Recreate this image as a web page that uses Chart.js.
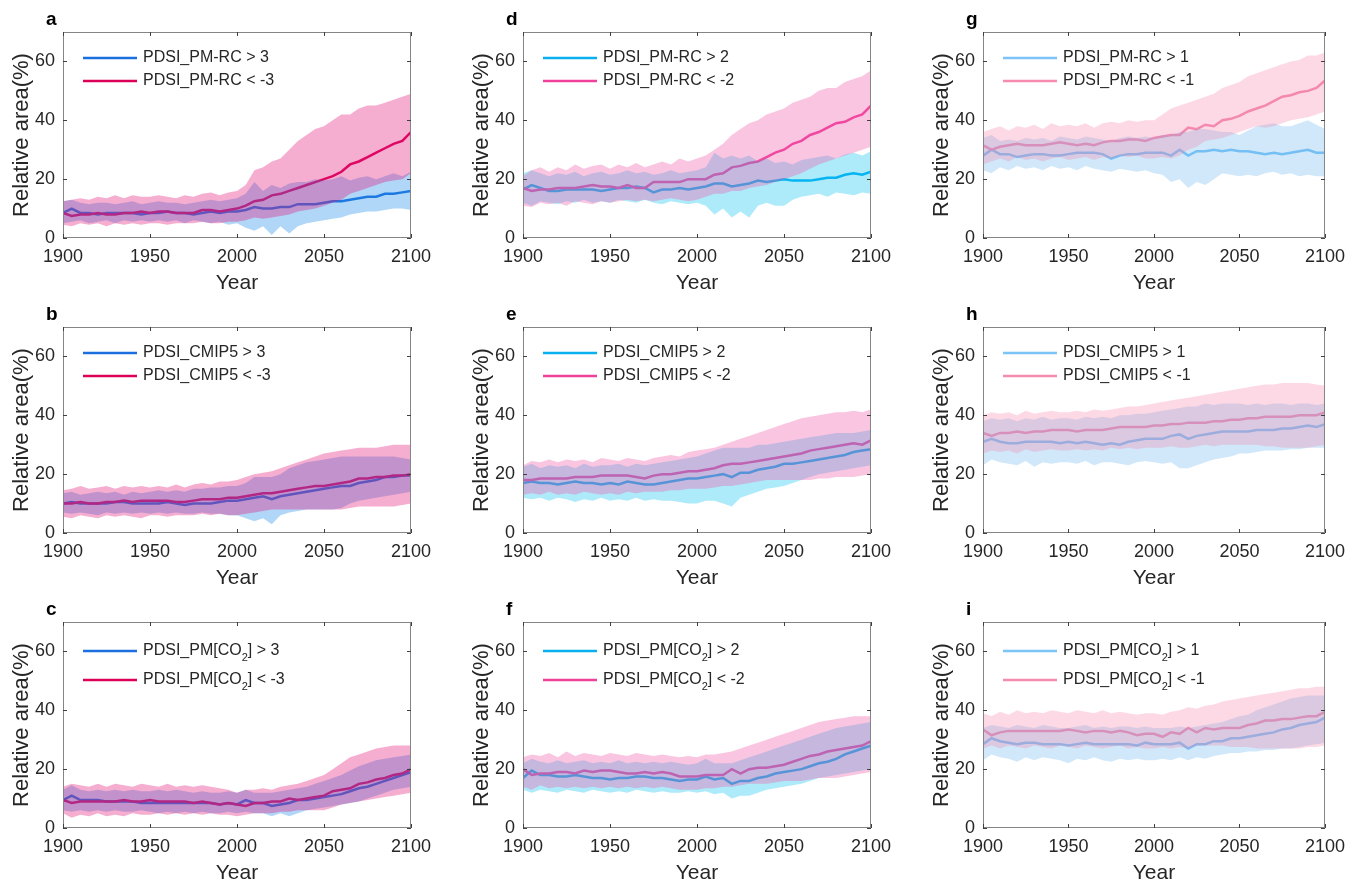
<!DOCTYPE html>
<html>
<head>
<meta charset="utf-8">
<script src="https://cdn.jsdelivr.net/npm/chart.js@4.4.1/dist/chart.umd.min.js"></script>
<style>
  html, body { margin: 0; padding: 0; background: #fff; overflow: hidden; }
  body { width: 1353px; height: 882px; position: relative; }
  canvas { position: absolute; }
</style>
</head>
<body>
<script>
// years, every 5 years
const years = [1900, 1905, 1910, 1915, 1920, 1925, 1930, 1935, 1940, 1945,
  1950, 1955, 1960, 1965, 1970, 1975, 1980, 1985, 1990, 1995,
  2000, 2005, 2010, 2015, 2020, 2025, 2030, 2035, 2040, 2045,
  2050, 2055, 2060, 2065, 2070, 2075, 2080, 2085, 2090, 2095, 2100];
const xTicks = [1900, 1950, 2000, 2050, 2100];
const yTicks = [0, 20, 40, 60];

// a: PDSI_PM-RC, +-3
const aWetMean = [8.5, 10, 8.5, 8.5, 8, 8.5, 8.5, 8.5, 8.5, 8, 8.5, 8.5, 9, 8.5, 8.5, 8, 8.5, 9, 8.5, 9, 9, 9.5, 10.5, 10, 10, 10.5, 10.5, 11.5, 11.5, 11.5, 12, 12.5, 12.5, 13, 13.5, 14, 14, 15, 15, 15.5, 16];
const aWetLo = [5, 5.5, 6, 5, 5.5, 6, 5, 6, 5.5, 6, 5.5, 6, 5.5, 6, 5, 6, 5.5, 5, 5.5, 4.5, 5, 3.5, 2.5, 4, 1, 4, 1.5, 4, 5, 5.5, 6, 6.5, 7, 8, 8.5, 9, 9, 9.5, 10, 10, 9.5];
const aWetHi = [12.5, 13, 12, 11.5, 12, 12, 11.5, 12, 12.5, 11.5, 12, 12.5, 12, 12, 11.5, 12, 12.5, 13, 12.5, 13, 13.5, 15, 19, 16, 18, 17, 18.5, 19, 19, 20, 19.5, 20, 21, 19.5, 20.5, 21, 20, 21, 22, 21, 22.5];
const aDryMean = [8.5, 7.5, 8, 8, 8.5, 8, 8, 8.5, 8.5, 9, 8.5, 9, 9, 8.5, 8.5, 8.5, 9.5, 9.5, 9, 9.5, 10, 11, 12.5, 13, 14.5, 15, 16, 17, 18, 19, 20, 21, 22.5, 25, 26, 27.5, 29, 30.5, 32, 33, 36];
const aDryLo = [4.5, 4, 5, 4.5, 5, 4, 5, 4.5, 5, 4.5, 5, 5, 4.5, 5, 5, 5, 5.5, 5, 5, 5.5, 5.5, 6, 7, 6.5, 7, 7.5, 8, 9, 9.5, 10, 11, 12, 13, 15, 16, 17, 18, 19, 19.5, 20, 22];
const aDryHi = [12.5, 13, 13.5, 13, 14, 13.5, 14.5, 13.5, 14.5, 14, 14, 14.5, 14, 13.5, 14.5, 14, 15, 15.5, 14.5, 15.5, 16, 18, 23, 24, 26, 27, 30, 33, 35, 37, 38, 40, 42, 42, 44, 45, 45, 46, 47, 48, 49];

// b: PDSI_CMIP5, +-3
const bWetMean = [10, 10.5, 10, 10, 10, 10, 10.5, 10.5, 10, 10, 10, 10, 10.5, 10, 9.5, 10, 10, 10, 10.5, 11, 11, 11.5, 12, 12.5, 11.5, 12.5, 13, 13.5, 14, 14.5, 15, 15.5, 16, 16, 17, 17.5, 18, 19, 19, 19.5, 19.5];
const bWetLo = [7, 6.5, 7, 6.5, 6, 7, 6.5, 7, 6.5, 7, 6.5, 7, 6.5, 7, 6.5, 6.5, 7, 6.5, 6.5, 6, 6, 5, 4, 5, 3, 6, 7, 7.5, 8, 8, 8, 8, 8.5, 10, 11, 11.5, 12, 12.5, 13, 13.5, 14];
const bWetHi = [13.5, 14, 13, 13.5, 14, 13.5, 14, 13, 14, 13.5, 14, 14.5, 14, 14.5, 14, 15, 15, 15.5, 15.5, 16, 16, 17, 19, 19, 19, 20, 22, 23, 24, 24.5, 25, 25.5, 26, 26, 26, 26, 26, 26, 26, 25.5, 25];
const bDryMean = [10, 10, 10.5, 10, 10, 10.5, 10.5, 11, 10.5, 11, 11, 11, 11, 10.5, 10.5, 11, 11.5, 11.5, 11.5, 12, 12, 12.5, 13, 13.5, 13.5, 14, 14.5, 15, 15.5, 16, 16, 16.5, 17, 17.5, 18.5, 18.5, 19, 19, 19.5, 19.5, 20];
const bDryLo = [5.5, 5, 6, 5.5, 5, 6, 5.5, 6, 5.5, 5, 6, 6, 5.5, 6, 6, 6, 6.5, 6, 6.5, 6, 6, 6.5, 7, 7.5, 8, 8, 8, 8, 8, 8, 8, 8, 8, 8.5, 9, 9, 9, 9, 9, 9.5, 10];
const bDryHi = [14.5, 15, 16, 15, 15.5, 16, 15, 16, 15.5, 16, 15.5, 16, 15.5, 16.5, 15.5, 16.5, 17, 16.5, 17.5, 17.5, 18, 19, 20, 20.5, 21, 22, 23, 24, 25, 26, 27, 27.5, 28, 28.5, 29, 29, 29, 29.5, 30, 30, 30];

// c: PDSI_PM[CO2], +-3
const cWetMean = [9.5, 11, 9.5, 9.5, 9.5, 9, 9, 9, 9, 8.5, 8.5, 8.5, 8.5, 8.5, 8.5, 8.5, 8.5, 8.5, 8, 8.5, 8, 9.5, 8.5, 8.5, 7.5, 8, 8.5, 9.5, 9.5, 10, 10.5, 11, 11.5, 12.5, 13.5, 14, 15, 16, 17, 18, 19];
const cWetLo = [6, 5.5, 6, 5.5, 6, 5.5, 6, 5.5, 5.5, 6, 5.5, 5, 5.5, 5, 5.5, 5, 5.5, 5, 5, 5.5, 5, 5.5, 5, 5, 4, 5, 4, 5, 6, 6.5, 7, 7.5, 8, 8.5, 9, 10, 11, 12, 13, 13.5, 14];
const cWetHi = [13, 14.5, 13, 12.5, 13, 12.5, 13, 12.5, 13, 12.5, 12.5, 13, 12.5, 13, 12.5, 12, 12.5, 12, 12, 12.5, 12, 13, 12, 12, 12, 12.5, 13, 13.5, 14, 15, 16, 17, 18, 19.5, 21, 22, 23, 23.5, 24, 24.5, 25];
const cDryMean = [9.5, 8.5, 9, 9, 9, 9, 9, 9.5, 9, 9, 9.5, 9, 9, 9, 9, 8.5, 9, 8.5, 8, 8.5, 8, 7.5, 8.5, 8.5, 9, 9, 10, 9.5, 10, 10.5, 11, 12.5, 13, 13.5, 15, 15.5, 16.5, 17, 18, 18.5, 20];
const cDryLo = [5, 3.5, 4.5, 4, 5, 4, 4.5, 4, 5, 4.5, 4.5, 5, 4.5, 5, 4.5, 5, 4.5, 5, 4.5, 4.5, 4, 4.5, 5, 5, 5, 5.5, 5.5, 6, 6, 6, 6, 7, 8, 8.5, 9, 9.5, 10, 10.5, 11, 11.5, 12];
const cDryHi = [14, 15, 14.5, 14, 15, 14, 15, 14.5, 14, 15, 14.5, 14, 15, 14, 14.5, 14, 14.5, 14, 13.5, 13, 12, 13, 13, 13.5, 13, 14, 14.5, 15, 16, 17, 18, 20, 22, 24, 25, 26, 27, 27.5, 28, 28, 28];

// d: PDSI_PM-RC, +-2
const dWetMean = [16.5, 18, 17, 16, 16, 16.5, 16.5, 16.5, 16.5, 16, 16.5, 17, 17, 17.5, 17, 15.5, 16.5, 16.5, 17, 16.5, 17, 17.5, 18.5, 18.5, 17.5, 18, 18.5, 19.5, 19, 19.5, 20, 19.5, 19.5, 19.5, 20, 20.5, 20.5, 21.5, 22, 21.5, 22.5];
const dWetLo = [12, 11, 12.5, 12, 11.5, 12.5, 12, 13, 12, 12.5, 12, 13, 12.5, 12, 13, 12, 11.5, 12.5, 12, 11.5, 12, 11, 8, 10, 7, 9, 7, 11, 12, 11, 11, 13, 14, 14.5, 15, 14, 15.5, 15, 14.5, 15.5, 15];
const dWetHi = [22, 23, 22, 21, 22, 21.5, 22.5, 21, 22, 22.5, 21.5, 22, 23, 22, 22.5, 21.5, 22, 23, 22, 22.5, 23, 24, 29, 27, 28, 27, 28, 26, 27, 25.5, 26, 25, 26.5, 27, 27.5, 28, 27, 28.5, 29, 28, 29.5];
const dDryMean = [17, 16, 16.5, 16.5, 17, 17, 17, 17.5, 18, 17.5, 17.5, 17, 18, 17, 17, 19, 19, 19, 19, 20, 20, 20, 21.5, 22, 24, 24.5, 25.5, 26, 27.5, 29, 30, 32, 33, 35, 36, 37.5, 39, 39.5, 41, 42, 45];
const dDryLo = [11, 10.5, 12, 11.5, 12, 11, 12.5, 12, 11.5, 12.5, 12, 12.5, 13, 12.5, 13, 12.5, 13, 13.5, 13, 12.5, 13, 14, 15, 15, 16, 16, 17, 17.5, 18, 19, 20, 21, 22, 23.5, 25, 26, 27, 28, 29, 30, 31];
const dDryHi = [21, 23, 24, 22.5, 24, 23, 25, 23.5, 24.5, 25, 23.5, 25, 24, 25.5, 24, 25, 26, 25, 27, 26, 27, 28, 30, 32, 35, 37, 39, 40, 42, 43, 44, 46, 47, 48, 50, 51, 51, 53, 54, 55, 57];

// e: PDSI_CMIP5, +-2
const eWetMean = [17, 17.5, 17, 17, 16.5, 17, 17.5, 17, 17, 16.5, 17, 16.5, 17.5, 17, 16.5, 16.5, 17, 17.5, 18, 18.5, 18.5, 19, 19.5, 20, 19, 20.5, 20.5, 21.5, 22, 22.5, 23.5, 23.5, 24, 24.5, 25, 25.5, 26, 26.5, 27.5, 28, 28.5];
const eWetLo = [12, 11.5, 12, 11, 12, 11.5, 10.5, 11.5, 11, 12, 11, 11.5, 11, 12, 11, 11.5, 11, 11, 10.5, 10, 10, 11, 11, 10, 9, 12, 13, 14, 15, 15.5, 16, 17, 18, 19, 20, 20.5, 21, 21.5, 22, 22.5, 23];
const eWetHi = [22.5, 23.5, 22, 23, 22.5, 23, 22, 23.5, 22.5, 23, 23, 23.5, 22.5, 23.5, 23, 23.5, 24, 24.5, 25, 25.5, 26, 27, 28, 29, 29, 29, 29, 30, 30, 30.5, 31, 31.5, 32, 32.5, 33, 33.5, 34, 34, 34, 34.5, 35];
const eDryMean = [18, 18, 18.5, 18.5, 18.5, 18.5, 19, 19, 19, 19.5, 19.5, 19.5, 19.5, 19, 18.5, 19.5, 20, 20, 20.5, 21, 21, 21.5, 22, 23, 23.5, 23.5, 24, 24.5, 25, 25.5, 26, 26.5, 27, 28, 28.5, 29, 29.5, 30, 30.5, 30, 31.5];
const eDryLo = [13, 13.5, 13, 14, 13, 13.5, 13, 14, 13.5, 13, 13.5, 13, 14, 13.5, 14, 14, 14, 14.5, 14.5, 15, 15, 15, 15.5, 16, 16, 16.5, 17, 17.5, 18, 18, 18, 18, 18, 18, 18.5, 18.5, 19, 19, 19, 19.5, 20];
const eDryHi = [23, 24.5, 24, 25, 24, 25, 24.5, 25, 24, 25.5, 25, 24.5, 25.5, 25, 24.5, 25.5, 26, 26.5, 26, 27.5, 28, 28.5, 29, 30, 31, 32, 33, 34, 35, 36, 37, 38, 39, 39.5, 40, 40.5, 41, 41, 41.5, 41, 42];

// f: PDSI_PM[CO2], +-2
const fWetMean = [17, 19.5, 18, 18, 17.5, 17.5, 18, 17.5, 17, 17, 16.5, 17, 17, 17.5, 17.5, 17, 17, 16.5, 16, 16.5, 16.5, 17.5, 16.5, 17, 15, 16, 16, 17, 17.5, 18.5, 19, 19.5, 20, 21, 22, 22.5, 23.5, 25, 26, 27, 28];
const fWetLo = [13, 12, 13, 12.5, 12, 13, 12.5, 12, 13, 12.5, 12, 12.5, 12, 13, 12.5, 12, 12.5, 12, 12, 12.5, 12, 12.5, 11.5, 12, 10, 11, 11, 12, 13, 13.5, 14, 14.5, 15, 16, 17, 17.5, 18, 18.5, 19, 19.5, 20];
const fWetHi = [22, 23.5, 22.5, 22, 23, 22, 22.5, 23, 22, 22.5, 22, 23, 22, 22.5, 22, 22.5, 22, 22.5, 22, 21.5, 22, 23.5, 22, 22, 22, 23, 24, 25, 26, 27, 28, 29, 30, 31, 32, 33, 34, 34.5, 35, 35.5, 36];
const fDryMean = [20, 18, 18.5, 18.5, 19, 19, 18.5, 19.5, 19, 19.5, 19.5, 19, 18.5, 18.5, 19, 18.5, 19, 18.5, 17.5, 17.5, 17.5, 18, 18, 18, 20, 18.5, 20, 20.5, 20.5, 21, 21.5, 22.5, 23.5, 24.5, 25, 26, 26.5, 27, 27.5, 28, 29.5];
const fDryLo = [14, 13, 14.5, 13.5, 14, 13.5, 14, 13.5, 14, 13.5, 14, 13.5, 14, 13.5, 14, 13.5, 14, 13.5, 13, 13, 13, 13.5, 13.5, 14, 14, 14.5, 15, 15, 15, 15.5, 16, 16, 16, 16.5, 17, 17, 17, 17.5, 18, 18.5, 19];
const fDryHi = [24, 25, 24.5, 25.5, 24, 26, 24.5, 25.5, 25, 24.5, 25.5, 25, 24.5, 25.5, 25, 24.5, 25, 24.5, 24, 24.5, 24, 25, 25, 25.5, 26, 27, 28, 29, 30, 31, 32, 33, 34, 35, 36, 36.5, 37, 37.5, 38, 38, 38];

// g: PDSI_PM-RC, +-1
const gWetMean = [28, 30, 28.5, 28.5, 27.5, 28, 28.5, 28.5, 28, 28, 28.5, 29, 29, 29, 28.5, 27, 28, 28.5, 28.5, 29, 29, 29, 28, 30, 28, 29.5, 29.5, 30, 29.5, 30, 29.5, 29.5, 29, 28.5, 29, 28.5, 29, 29.5, 30, 29, 29];
const gWetLo = [23, 22, 24, 23, 24.5, 23.5, 24, 23, 24.5, 23.5, 24, 23, 24.5, 23.5, 23, 22.5, 23.5, 23, 22.5, 23, 22, 21.5, 19, 20, 17, 19, 18, 20, 22, 21.5, 21, 21.5, 21, 22, 22.5, 21.5, 22, 21, 21.5, 21, 21];
const gWetHi = [34, 35, 33, 33.5, 33, 34, 33.5, 34, 33, 34.5, 34, 33.5, 34.5, 34, 33.5, 33, 34, 34.5, 34, 34.5, 34, 35, 35, 36, 36, 37, 37, 36.5, 36, 36, 35, 36.5, 38, 38.5, 39, 38, 38, 39, 40, 38.5, 37];
const gDryMean = [31.5, 30, 31, 31.5, 32, 31.5, 31.5, 31.5, 32, 32.5, 32, 31.5, 32, 31.5, 32.5, 33, 33, 33.5, 33.5, 33, 34, 34.5, 35, 35, 37.5, 37, 38.5, 38, 40, 40.5, 41.5, 43, 44, 45, 46.5, 48, 48.5, 49.5, 50, 51, 53.5];
const gDryLo = [25, 26, 27, 26, 27.5, 26.5, 27, 26, 27, 27.5, 26.5, 27, 27.5, 26.5, 27.5, 27, 28, 27.5, 28, 27, 27, 27.5, 27, 28, 30, 31, 33, 33.5, 34, 35, 36, 37, 38, 37.5, 38, 39, 40, 40.5, 41, 42, 43];
const gDryHi = [36, 37, 38, 36.5, 38, 37.5, 38.5, 37, 39, 38, 38.5, 38, 39, 37.5, 39, 39.5, 39, 40, 39.5, 40, 40, 42, 44, 45, 46, 47, 48, 49, 51, 52, 53, 55, 56, 57, 58, 59, 60, 60.5, 62, 62, 63];

// h: PDSI_CMIP5, +-1
const hWetMean = [31, 32, 31, 30.5, 30.5, 31, 31, 31, 31, 30.5, 31, 30.5, 31, 30.5, 30, 30.5, 30, 31, 31.5, 32, 32, 32, 33, 33.5, 32, 33, 33.5, 34, 34.5, 34.5, 34.5, 34.5, 35, 35, 35, 35.5, 35.5, 36, 36.5, 36, 37];
const hWetLo = [23, 25, 24, 23.5, 23, 24.5, 22.5, 24, 23.5, 24, 24, 23.5, 24.5, 23, 24, 24, 23.5, 23, 24, 24.5, 24, 23.5, 24, 22, 22, 23, 24, 25, 25.5, 26, 27, 27, 27.5, 28, 28, 28, 28.5, 28.5, 29, 29, 29];
const hWetHi = [38, 39, 38.5, 39, 38, 39, 38.5, 39.5, 38.5, 39, 39, 38.5, 39.5, 39, 39.5, 39, 40, 40, 40.5, 40.5, 41, 41.5, 42, 42.5, 43, 43, 44, 43.5, 44, 44, 44, 43.5, 44, 43.5, 44, 44, 43.5, 44, 44, 43.5, 44];
const hDryMean = [34, 33, 34, 34, 34.5, 34, 34.5, 34.5, 35, 35, 35, 34.5, 35, 35, 35, 35.5, 36, 36, 36, 36, 36.5, 36.5, 37, 37, 37.5, 37.5, 37.5, 38, 38, 38.5, 38.5, 39, 39, 39.5, 39.5, 39.5, 39.5, 40, 40, 40, 41];
const hDryLo = [27, 28, 27.5, 28, 27, 28.5, 27.5, 28, 28.5, 28, 28, 28.5, 28, 28.5, 28, 29, 28.5, 29, 28.5, 29, 29, 29, 29.5, 29, 29, 29.5, 30, 29.5, 30, 30, 30, 30, 30, 29.5, 29.5, 29, 29, 29, 29, 29.5, 30];
const hDryHi = [40, 41, 40.5, 41, 40, 41.5, 40.5, 41, 41.5, 41, 41, 41.5, 41, 42, 41.5, 42, 42.5, 43, 43, 43.5, 44, 44.5, 45, 45.5, 46, 46.5, 47, 47.5, 48, 48.5, 49, 49.5, 50, 50.5, 50.5, 51, 51, 51, 51, 50.5, 50];

// i: PDSI_PM[CO2], +-1
const iWetMean = [28.5, 30.5, 29.5, 29, 28.5, 29, 29, 28.5, 28.5, 28.5, 28, 28.5, 29, 28.5, 28.5, 28.5, 28.5, 28.5, 28, 29, 28.5, 28.5, 28.5, 29, 27, 28.5, 28.5, 29.5, 29.5, 30.5, 30.5, 31, 31.5, 32, 32.5, 33.5, 34, 35, 35.5, 36, 37.5];
const iWetLo = [23, 25, 24, 23.5, 22.5, 24, 23, 24, 23.5, 23, 22, 23.5, 23, 24, 23, 22.5, 23.5, 23, 23.5, 23, 23, 23.5, 23, 24, 23, 24, 23.5, 24.5, 25, 25.5, 25.5, 26, 26, 26.5, 26.5, 27, 27, 27.5, 28, 28.5, 29];
const iWetHi = [34, 35, 34.5, 34, 35, 34.5, 34, 35, 34.5, 34, 34, 34.5, 35, 34, 34.5, 34, 34.5, 34.5, 34, 34.5, 34, 34, 34, 34.5, 34, 34.5, 35, 35.5, 36, 37, 38, 38.5, 40, 41, 42, 43, 44, 44.5, 45, 45, 45];
const iDryMean = [33.5, 31.5, 32.5, 33, 33, 33, 33, 33, 33, 33, 33.5, 33, 32.5, 33, 33, 32.5, 33, 32.5, 31.5, 32, 32, 31, 32.5, 32, 34, 32.5, 34, 33.5, 34, 34, 34, 35, 35.5, 36.5, 36.5, 37, 37, 37.5, 38, 38, 39.5];
const iDryLo = [27, 28, 27, 28, 27.5, 27, 28, 27.5, 27, 28, 27.5, 27, 28, 27.5, 27, 27.5, 28, 27, 27.5, 27, 27, 27.5, 27, 27.5, 27, 28, 28, 28, 28, 27.5, 27.5, 27.5, 27, 27, 27, 27, 27, 27, 27.5, 27.5, 28];
const iDryHi = [39, 38, 39.5, 38.5, 40, 39, 39.5, 39, 40, 39.5, 39, 40, 39.5, 39, 40, 39, 39.5, 39, 38.5, 39, 39, 38.5, 39.5, 40, 41, 40.5, 41.5, 42, 43, 43.5, 44, 44.5, 45, 45.5, 46, 46.5, 47, 47.5, 47.5, 48, 48];

// colours per threshold column (3, 2, 1)
const palettes = [
  { wetLine: '#1c6fde', dryLine: '#dc0058', wetBand: 'rgba(30,140,235,0.35)', dryBand: 'rgba(225,20,120,0.35)' },
  { wetLine: '#08b0f0', dryLine: '#f0409c', wetBand: 'rgba(0,190,240,0.32)', dryBand: 'rgba(240,90,170,0.35)' },
  { wetLine: '#7cc4f6', dryLine: '#f58cb0', wetBand: 'rgba(100,180,240,0.3)', dryBand: 'rgba(245,130,170,0.3)' }
];

// legend text: [main, subscript, rest]
const panels = [
  { letter: 'a', col: 0, row: 0, wet: [aWetMean, aWetLo, aWetHi], dry: [aDryMean, aDryLo, aDryHi], names: [['PDSI_PM-RC > 3'], ['PDSI_PM-RC < -3']] },
  { letter: 'b', col: 0, row: 1, wet: [bWetMean, bWetLo, bWetHi], dry: [bDryMean, bDryLo, bDryHi], names: [['PDSI_CMIP5 > 3'], ['PDSI_CMIP5 < -3']] },
  { letter: 'c', col: 0, row: 2, wet: [cWetMean, cWetLo, cWetHi], dry: [cDryMean, cDryLo, cDryHi], names: [['PDSI_PM[CO', '2', '] > 3'], ['PDSI_PM[CO', '2', '] < -3']] },
  { letter: 'd', col: 1, row: 0, wet: [dWetMean, dWetLo, dWetHi], dry: [dDryMean, dDryLo, dDryHi], names: [['PDSI_PM-RC > 2'], ['PDSI_PM-RC < -2']] },
  { letter: 'e', col: 1, row: 1, wet: [eWetMean, eWetLo, eWetHi], dry: [eDryMean, eDryLo, eDryHi], names: [['PDSI_CMIP5 > 2'], ['PDSI_CMIP5 < -2']] },
  { letter: 'f', col: 1, row: 2, wet: [fWetMean, fWetLo, fWetHi], dry: [fDryMean, fDryLo, fDryHi], names: [['PDSI_PM[CO', '2', '] > 2'], ['PDSI_PM[CO', '2', '] < -2']] },
  { letter: 'g', col: 2, row: 0, wet: [gWetMean, gWetLo, gWetHi], dry: [gDryMean, gDryLo, gDryHi], names: [['PDSI_PM-RC > 1'], ['PDSI_PM-RC < -1']] },
  { letter: 'h', col: 2, row: 1, wet: [hWetMean, hWetLo, hWetHi], dry: [hDryMean, hDryLo, hDryHi], names: [['PDSI_CMIP5 > 1'], ['PDSI_CMIP5 < -1']] },
  { letter: 'i', col: 2, row: 2, wet: [iWetMean, iWetLo, iWetHi], dry: [iDryMean, iDryLo, iDryHi], names: [['PDSI_PM[CO', '2', '] > 1'], ['PDSI_PM[CO', '2', '] < -1']] }
];

const FONT = "'Liberation Sans', Arial, Helvetica, sans-serif";
const TEXT = '#262626';
const colLeft = [0, 460, 920];
const colWidth = [440, 440, 433];
const rowTop = [0, 295, 590];

function pts(arr) {
  return arr.map((v, i) => ({ x: years[i], y: v }));
}

// box, inward ticks, legend and panel letter
const decorPlugin = {
  id: 'decor',
  afterDraw(chart) {
    const ctx = chart.ctx;
    const ca = chart.chartArea;
    const p = chart.options.plugins.decor;
    const xs = chart.scales.x, ys = chart.scales.y;
    ctx.save();

    // axis box
    ctx.strokeStyle = '#858585';
    ctx.lineWidth = 1;
    ctx.strokeRect(ca.left + 0.5, ca.top + 0.5, ca.right - ca.left - 1, ca.bottom - ca.top - 1);

    // inward tick marks
    ctx.strokeStyle = '#404040';
    ctx.beginPath();
    xTicks.forEach(v => {
      const px = Math.round(xs.getPixelForValue(v)) + 0.5;
      ctx.moveTo(px, ca.bottom); ctx.lineTo(px, ca.bottom - 4);
      ctx.moveTo(px, ca.top); ctx.lineTo(px, ca.top + 4);
    });
    yTicks.forEach(v => {
      const py = Math.round(ys.getPixelForValue(v)) + 0.5;
      ctx.moveTo(ca.left, py); ctx.lineTo(ca.left + 4, py);
      ctx.moveTo(ca.right, py); ctx.lineTo(ca.right - 4, py);
    });
    ctx.stroke();

    // legend
    const co2 = p.names[0].length > 1;
    const rows = co2 ? [ca.top + 29, ca.top + 58] : [ca.top + 26, ca.top + 49];
    const colors = [p.pal.wetLine, p.pal.dryLine];
    rows.forEach((y, k) => {
      ctx.strokeStyle = colors[k];
      ctx.lineWidth = 2.5;
      ctx.beginPath();
      ctx.moveTo(ca.left + 20, y);
      ctx.lineTo(ca.left + 74, y);
      ctx.stroke();
      const parts = p.names[k];
      let tx = ca.left + 80;
      ctx.fillStyle = TEXT;
      ctx.textBaseline = 'middle';
      ctx.textAlign = 'left';
      ctx.font = '16px ' + FONT;
      ctx.fillText(parts[0], tx, y);
      if (parts.length > 1) {
        tx += ctx.measureText(parts[0]).width;
        ctx.font = '11px ' + FONT;
        ctx.fillText(parts[1], tx, y + 7);
        tx += ctx.measureText(parts[1]).width;
        ctx.font = '16px ' + FONT;
        ctx.fillText(parts[2], tx, y);
      }
    });

    // panel letter
    ctx.fillStyle = '#000';
    ctx.font = 'bold 19px ' + FONT;
    ctx.textBaseline = 'alphabetic';
    ctx.textAlign = 'left';
    ctx.fillText(p.letter, ca.left - 17, ca.top - 7);
    ctx.restore();
  }
};

panels.forEach(p => {
  const pal = palettes[p.col];
  const canvas = document.createElement('canvas');
  canvas.width = colWidth[p.col];
  canvas.height = 300;
  canvas.style.left = colLeft[p.col] + 'px';
  canvas.style.top = rowTop[p.row] + 'px';
  document.body.appendChild(canvas);

  const lineOpts = { pointRadius: 0, borderWidth: 2.5, fill: false, tension: 0 };
  const edgeOpts = { pointRadius: 0, borderWidth: 0, borderColor: 'rgba(0,0,0,0)', tension: 0 };

  new Chart(canvas, {
    type: 'line',
    data: {
      datasets: [
        Object.assign({ data: pts(p.wet[0]), borderColor: pal.wetLine, order: 4 }, lineOpts),
        Object.assign({ data: pts(p.dry[0]), borderColor: pal.dryLine, order: 3 }, lineOpts),
        Object.assign({ data: pts(p.wet[1]), fill: false, order: 2 }, edgeOpts),
        Object.assign({ data: pts(p.wet[2]), fill: 2, backgroundColor: pal.wetBand, order: 2 }, edgeOpts),
        Object.assign({ data: pts(p.dry[1]), fill: false, order: 1 }, edgeOpts),
        Object.assign({ data: pts(p.dry[2]), fill: 4, backgroundColor: pal.dryBand, order: 1 }, edgeOpts)
      ]
    },
    options: {
      responsive: false,
      animation: false,
      layout: { padding: { top: 32, left: 0, right: colWidth[p.col] - 63 - 348, bottom: 0 } },
      plugins: {
        legend: { display: false },
        tooltip: { enabled: false },
        decor: { letter: p.letter, names: p.names, pal: pal }
      },
      scales: {
        x: {
          type: 'linear', min: 1900, max: 2100,
          afterBuildTicks: s => { s.ticks = xTicks.map(v => ({ value: v })); },
          afterFit: s => { s.height = 62; },
          grid: { display: false, drawTicks: false },
          border: { display: false },
          ticks: { color: TEXT, font: { family: FONT, size: 18 }, padding: 8, maxRotation: 0, autoSkip: false, callback: v => String(v) },
          title: { display: true, text: 'Year', color: TEXT, font: { family: FONT, size: 21 }, padding: { top: 0, bottom: 4 } }
        },
        y: {
          min: 0, max: 70,
          afterBuildTicks: s => { s.ticks = yTicks.map(v => ({ value: v })); },
          afterFit: s => { s.width = 63; },
          grid: { display: false, drawTicks: false },
          border: { display: false },
          ticks: { color: TEXT, font: { family: FONT, size: 18 }, padding: 8, callback: v => String(v) },
          title: { display: true, text: 'Relative area(%)', color: TEXT, font: { family: FONT, size: 22 }, padding: { top: 9, bottom: 0 } }
        }
      }
    },
    plugins: [decorPlugin]
  });
});
</script>
</body>
</html>
